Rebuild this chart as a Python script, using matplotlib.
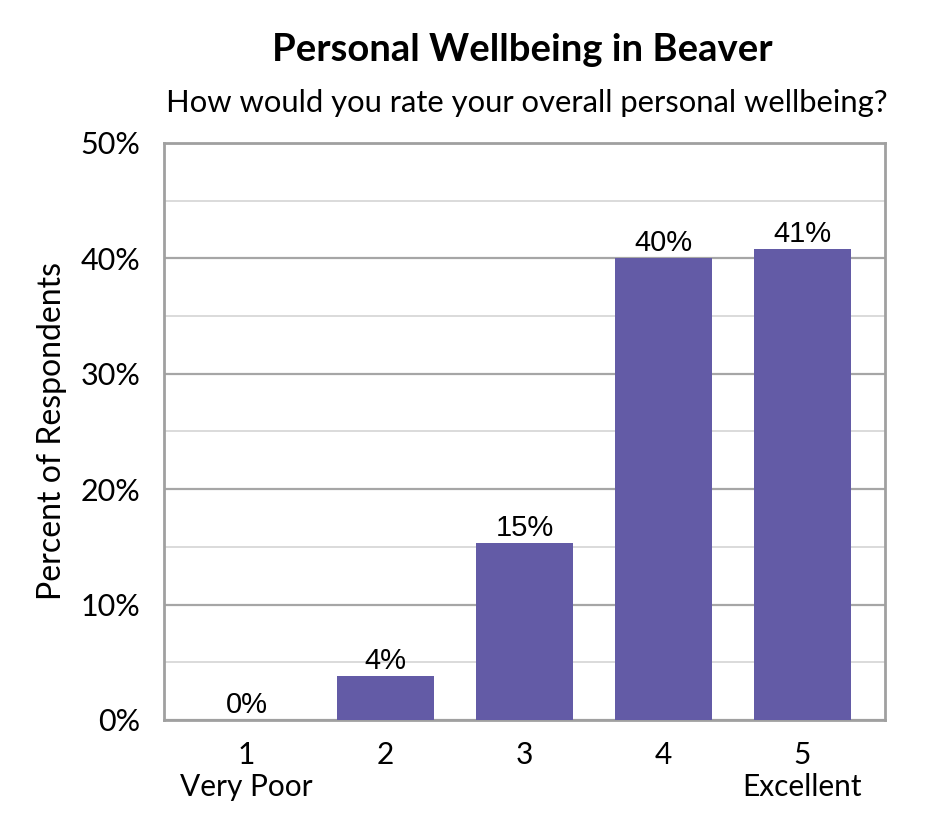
import matplotlib.pyplot as plt
from matplotlib.ticker import MultipleLocator, FuncFormatter

ratings = [1, 2, 3, 4, 5]
tick_labels = ["1\nVery Poor", "2", "3", "4", "5\nExcellent"]
percents = [0.0, 3.8, 15.3, 40.0, 40.8]
value_labels = ["0%", "4%", "15%", "40%", "41%"]

main_font = "Lato"

fig = plt.figure(figsize=(9.45, 8.4), dpi=100)
ax = fig.add_axes([0.1735, 0.1429, 0.763, 0.6869])

ax.bar(ratings, percents, width=0.7, color="#635BA6", zorder=3)

for x, y, lab in zip(ratings, percents, value_labels):
    ax.text(x, y + 0.1, lab, ha="center", va="bottom", fontsize=21,
            family="Liberation Sans", zorder=4)

ax.set_xlim(0.406, 5.594)
ax.set_ylim(0, 50)
ax.yaxis.set_major_locator(MultipleLocator(10))
ax.yaxis.set_minor_locator(MultipleLocator(5))
ax.yaxis.set_major_formatter(FuncFormatter(lambda v, p: f"{v:.0f}%"))
ax.grid(axis="y", which="major", color="#A6A6A6", linewidth=1.6, zorder=0)
ax.grid(axis="y", which="minor", color="#D4D4D4", linewidth=1.2, zorder=0)

ax.set_xticks(ratings)
ax.set_xticklabels(tick_labels, family=main_font, fontsize=21.5, linespacing=1.2)
for lab in ax.get_yticklabels():
    lab.set_family(main_font)
    lab.set_fontsize(22)
ax.tick_params(axis="both", which="both", length=0)
ax.tick_params(axis="x", pad=15)
ax.tick_params(axis="y", pad=17)

for s in ax.spines.values():
    s.set_color("#A0A0A0")
    s.set_linewidth(2)

ax.set_ylabel("Percent of Respondents", family=main_font, fontsize=23, labelpad=10)

fig.text(0.5524, 0.940, "Personal Wellbeing in Beaver", ha="center", va="center",
         family=main_font, fontsize=27.5, fontweight="bold")
fig.text(0.558, 0.877, "How would you rate your overall personal wellbeing?",
         ha="center", va="center", family=main_font, fontsize=22.3)

fig.savefig("out.png", dpi=100)
